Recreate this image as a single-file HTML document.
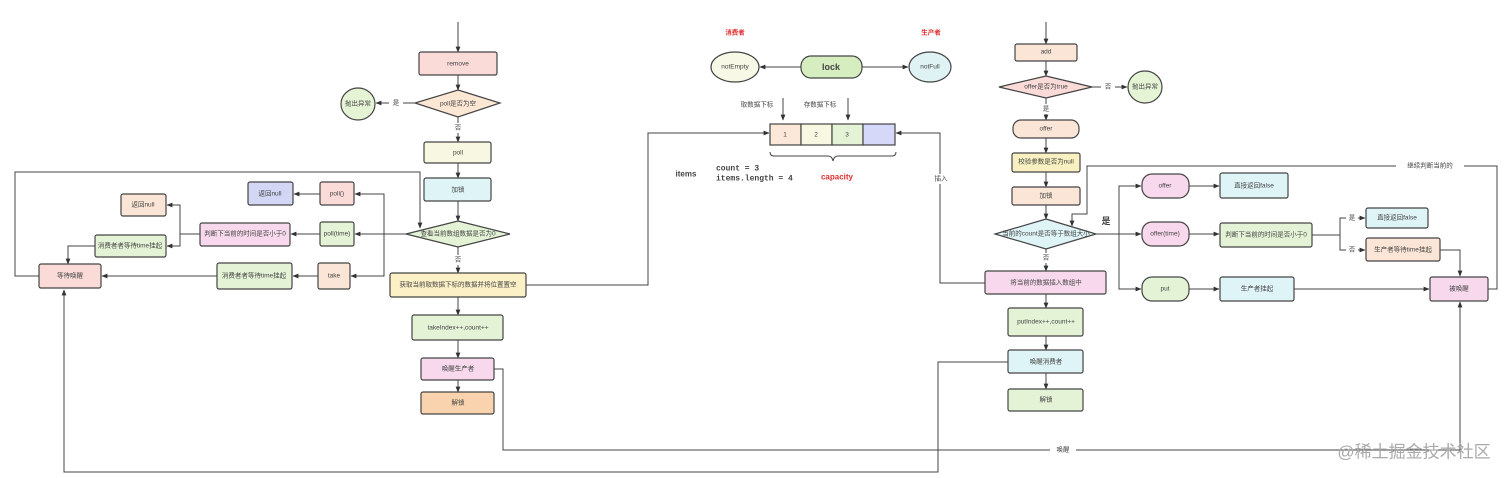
<!DOCTYPE html>
<html><head><meta charset="utf-8"><style>
html,body{margin:0;padding:0;background:#fff;width:1512px;height:478px;overflow:hidden}
svg text{font-family:"Liberation Sans","Noto Sans CJK SC",sans-serif;font-size:6.5px;fill:#444;text-anchor:middle;dominant-baseline:central}
.b{stroke:#444;stroke-width:1.2}
.l{stroke:#444;stroke-width:1;fill:none}
</style></head><body>
<svg width="1512" height="478" viewBox="0 0 1512 478" xmlns="http://www.w3.org/2000/svg">
<defs><marker id="a" viewBox="0 0 10 10" refX="9" refY="5" markerWidth="6" markerHeight="6" orient="auto"><path d="M0,1 L10,5 L0,9z" fill="#333"/></marker></defs>
<g class="l" marker-end="url(#a)">
<path d="M458 22V52"/><path d="M458 75V90"/><path d="M415 103H376"/><path d="M458 117V142"/>
<path d="M458 163V178"/><path d="M458 201V221"/><path d="M458 247V273"/><path d="M458 297V315"/>
<path d="M458 340V358"/><path d="M458 380V392"/>
<path d="M406 234H355"/><path d="M384 234V194H355"/><path d="M384 234V276H351"/>
<path d="M320 194H294"/><path d="M320 234H291"/><path d="M318 276H293"/>
<path d="M200 234H180V205H167"/><path d="M180 234V246H167"/>
<path d="M95 246H68V264"/><path d="M217 276H102"/>
<path d="M39 276H15V172H420V228"/>
<path d="M1008 362H938V472H64V290"/>
<path d="M494 369H503V450H1460V302"/>
<path d="M526 285H648V133H769"/><path d="M985 283H940V133H896"/>
<path d="M801 67H760"/><path d="M862 67H908"/>
<path d="M783 98V120"/><path d="M848 98V120"/>
<path d="M1046 22V44"/><path d="M1046 61V76"/><path d="M1092 87H1127"/><path d="M1046 98V120"/>
<path d="M1046 138V153"/><path d="M1046 172V187"/><path d="M1046 205V219"/><path d="M1046 249V271"/>
<path d="M1046 294V308"/><path d="M1046 336V350"/><path d="M1046 373V389"/>
<path d="M1096 234H1141"/><path d="M1119 234V186H1141"/><path d="M1119 234V289H1141"/>
<path d="M1189 186H1219"/><path d="M1189 234H1219"/><path d="M1189 289H1219"/><path d="M1294 289H1429"/>
<path d="M1312 235H1340V218H1365"/><path d="M1340 235V250H1365"/>
<path d="M1440 250H1460V276"/>
<path d="M1488 289H1497V166H1087V214H1072V226"/>
</g>
<g fill="#fff"><rect x="389" y="98" width="14" height="10"/><rect x="452" y="123" width="12" height="10"/><rect x="452" y="255" width="12" height="10"/><rect x="1101" y="82" width="14" height="10"/><rect x="1040" y="104" width="12" height="10"/><rect x="1040" y="253" width="12" height="10"/><rect x="934" y="174" width="16" height="10"/><rect x="1050" y="445" width="26" height="10"/><rect x="1396" y="161" width="68" height="10"/><rect x="1346" y="213" width="12" height="10"/><rect x="1346" y="245" width="12" height="10"/></g>
<rect class="b" x="419" y="52" width="78" height="23" rx="2" fill="#fadbd8"/>
<polygon class="b" points="458,90 500,103 458,117 415,103" fill="#fce6d4"/>
<ellipse class="b" cx="358" cy="104" rx="17" ry="16" fill="#e6f4d6"/>
<rect class="b" x="424" y="142" width="67" height="21" rx="2" fill="#f8f8e2"/>
<rect class="b" x="424" y="178" width="67" height="23" rx="2" fill="#dff4f7"/>
<polygon class="b" points="458,221 510,234 458,247 406,234" fill="#e4f3d6"/>
<rect class="b" x="390" y="273" width="136" height="24" rx="2" fill="#fbf0c6"/>
<rect class="b" x="412" y="315" width="91" height="25" rx="2" fill="#e4f3d6"/>
<rect class="b" x="421" y="358" width="73" height="22" rx="2" fill="#f8d8ec"/>
<rect class="b" x="421" y="392" width="73" height="22" rx="2" fill="#f9d3ad"/>
<rect class="b" x="320" y="182" width="34" height="23" rx="2" fill="#fadbd8"/>
<rect class="b" x="248" y="182" width="45" height="23" rx="2" fill="#d3d6f5"/>
<rect class="b" x="320" y="222" width="34" height="24" rx="2" fill="#e4f3d6"/>
<rect class="b" x="200" y="223" width="90" height="23" rx="2" fill="#f8d8ec"/>
<rect class="b" x="121" y="194" width="45" height="22" rx="2" fill="#fbe5d6"/>
<rect class="b" x="95" y="235" width="71" height="22" rx="2" fill="#e4f3d6"/>
<rect class="b" x="318" y="263" width="32" height="26" rx="2" fill="#fbe5d6"/>
<rect class="b" x="217" y="263" width="75" height="26" rx="2" fill="#e4f3d6"/>
<rect class="b" x="39" y="264" width="62" height="24" rx="2" fill="#fadbd8"/>
<ellipse class="b" cx="735" cy="67" rx="24" ry="15" fill="#f8f8e6"/>
<rect class="b" x="801" y="56" width="61" height="22" rx="10" fill="#d5edbf"/>
<ellipse class="b" cx="930" cy="67" rx="21" ry="15" fill="#dff3f5"/>
<rect class="b" x="770" y="124" width="31" height="21" fill="#fbe8d8"/>
<rect class="b" x="801" y="124" width="31" height="21" fill="#f8f8e2"/>
<rect class="b" x="832" y="124" width="31" height="21" fill="#e4f3d6"/>
<rect class="b" x="863" y="124" width="32" height="21" fill="#d5d8f8"/>
<path class="l" d="M770 152q0 4 4 4H828q4 0 5 5q1-5 5-5H892q4 0 4-4"/>
<rect class="b" x="1015" y="44" width="62" height="17" rx="2" fill="#fbe5d6"/>
<polygon class="b" points="1046,76 1092,87 1046,98 999,87" fill="#fadbd8"/>
<ellipse class="b" cx="1145" cy="87" rx="17" ry="16" fill="#e6f4d6"/>
<rect class="b" x="1013" y="120" width="66" height="18" rx="8" fill="#fbe5d6"/>
<rect class="b" x="1012" y="153" width="68" height="19" rx="2" fill="#f8f0c0"/>
<rect class="b" x="1012" y="187" width="68" height="18" rx="2" fill="#fbe5d6"/>
<polygon class="b" points="1046,219 1096,234 1046,249 995,234" fill="#dff4f7"/>
<rect class="b" x="985" y="271" width="121" height="23" rx="2" fill="#f8d8ec"/>
<rect class="b" x="1008" y="308" width="75" height="28" rx="2" fill="#e4f3d6"/>
<rect class="b" x="1008" y="350" width="75" height="23" rx="2" fill="#dff4f7"/>
<rect class="b" x="1008" y="389" width="75" height="22" rx="2" fill="#e4f3d6"/>
<rect class="b" x="1142" y="174" width="47" height="24" rx="10" fill="#f8d8ec"/>
<rect class="b" x="1220" y="173" width="68" height="25" rx="2" fill="#dff4f7"/>
<rect class="b" x="1142" y="222" width="47" height="24" rx="10" fill="#f8d8ec"/>
<rect class="b" x="1220" y="223" width="92" height="24" rx="2" fill="#e4f3d6"/>
<rect class="b" x="1366" y="208" width="62" height="20" rx="2" fill="#dff4f7"/>
<rect class="b" x="1366" y="238" width="74" height="23" rx="2" fill="#fbe5d6"/>
<rect class="b" x="1142" y="277" width="47" height="24" rx="10" fill="#e4f3d6"/>
<rect class="b" x="1220" y="277" width="74" height="24" rx="2" fill="#dff4f7"/>
<rect class="b" x="1430" y="277" width="58" height="24" rx="2" fill="#f8d8ec"/>
<text x="458" y="64">remove</text><text x="458" y="104">poll是否为空</text><text x="358" y="104">抛出异常</text>
<text x="396" y="103">是</text><text x="458" y="128">否</text><text x="458" y="153">poll</text><text x="458" y="190">加锁</text>
<text x="458" y="234" font-size="6">查看当前数组数据是否为0</text><text x="458" y="260">否</text>
<text x="458" y="285">获取当前取数据下标的数据并将位置置空</text><text x="458" y="328">takeIndex++,count++</text>
<text x="458" y="369">唤醒生产者</text><text x="458" y="403">解锁</text>
<text x="337" y="194">poll()</text><text x="270" y="194">返回null</text><text x="337" y="234">poll(time)</text>
<text x="245" y="234" font-size="6">判断下当前的时间是否小于0</text><text x="143" y="205">返回null</text><text x="130" y="246" font-size="6">消费者者等待time挂起</text>
<text x="334" y="276">take</text><text x="254" y="276">消费者者等待time挂起</text><text x="70" y="276">等待唤醒</text>
<text x="735" y="33" style="fill:#e03030;font-weight:bold">消费者</text><text x="931" y="33" style="fill:#e03030;font-weight:bold">生产者</text>
<text x="735" y="67">notEmpty</text><text x="831" y="67" style="font-size:9px;font-weight:bold">lock</text><text x="930" y="67">notFull</text>
<text x="757" y="105">取数据下标</text><text x="820" y="105">存数据下标</text>
<text x="785" y="135">1</text><text x="816" y="135">2</text><text x="847" y="135">3</text>
<text x="686" y="174" style="font-weight:bold;font-size:8px">items</text>
<text x="716" y="169" style="text-anchor:start;font-family:'Liberation Mono',monospace;font-weight:bold;font-size:8px">count = 3</text>
<text x="716" y="179" style="text-anchor:start;font-family:'Liberation Mono',monospace;font-weight:bold;font-size:8px">items.length = 4</text>
<text x="837" y="177" style="fill:#e03030;font-weight:bold;font-size:8px">capacity</text>
<text x="941" y="179">插入</text><text x="1063" y="450">唤醒</text>
<text x="1046" y="52">add</text><text x="1046" y="87">offer是否为true</text><text x="1108" y="87">否</text><text x="1145" y="87">抛出异常</text>
<text x="1046" y="109">是</text><text x="1046" y="129">offer</text><text x="1046" y="162">校验参数是否为null</text><text x="1046" y="196">加锁</text>
<text x="1046" y="234" font-size="6">当前的count是否等于数组大小</text><text x="1046" y="258">否</text><text x="1106" y="221" style="font-size:9px;font-weight:bold">是</text>
<text x="1046" y="283">将当前的数据插入数组中</text><text x="1046" y="322">putIndex++,count++</text><text x="1046" y="362">唤醒消费者</text><text x="1046" y="400">解锁</text>
<text x="1165" y="186">offer</text><text x="1254" y="186">直接返回false</text><text x="1165" y="234">offer(time)</text>
<text x="1266" y="235" font-size="6">判断下当前的时间是否小于0</text><text x="1352" y="218">是</text><text x="1352" y="250">否</text>
<text x="1397" y="218">直接返回false</text><text x="1403" y="250">生产者等待time挂起</text>
<text x="1165" y="289">put</text><text x="1257" y="289">生产者挂起</text><text x="1459" y="289">被唤醒</text>
<text x="1430" y="166">继续判断当前的</text>
<text x="1414" y="452" style="font-size:17px;fill:#aaa">@稀土掘金技术社区</text>
</svg>
</body></html>
